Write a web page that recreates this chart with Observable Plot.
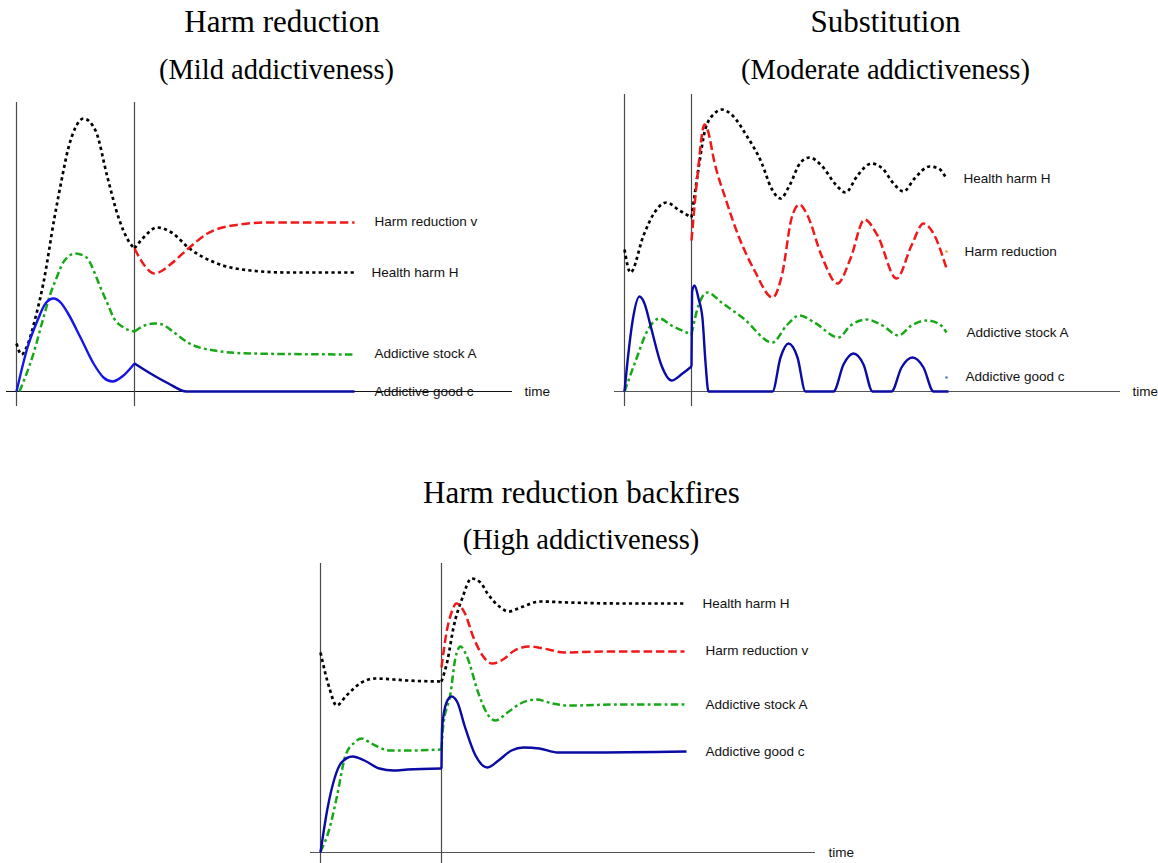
<!DOCTYPE html>
<html><head><meta charset="utf-8">
<script src="https://cdn.jsdelivr.net/npm/d3@7"></script>
<script src="https://cdn.jsdelivr.net/npm/@observablehq/plot@0.6"></script>
<style>
html,body{margin:0;padding:0;background:#fff;}
#root{position:relative;width:1158px;height:863px;overflow:hidden;background:#fff;}
.title{position:absolute;font-family:"Liberation Serif","Times New Roman",serif;white-space:nowrap;transform:translateX(-50%);color:#000;}
.panel{position:absolute;}
</style></head><body><div id="root"></div>
<script>
// ---------- Panel 1: Harm reduction (Mild addictiveness) ----------
const events1 = [0, 118];
const H1_pre  = [[0,48],[5,37],[10,44],[19,74],[27,109],[38,174],[45,211],[52,244],[59,264],[67,273],[79,261],[91,214],[102,174],[113,149],[118,143]];
const H1_post = [[118,143],[127,154],[141,164],[155,159],[173,143],[198,129],[234,121],[270,119],[338,119]];
const v1_post = [[118,143],[128,126],[138,118],[146,121],[155,128],[173,144],[191,158],[216,166],[252,169],[338,169]];
const A1_pre  = [[3,0],[17,38],[27,74],[34,98],[39,111],[48,131],[59,138],[70,134],[80,114],[84,104],[91,88],[97,74],[107,64],[118,60]];
const A1_post = [[118,60],[128,66],[138,68],[146,67],[155,61],[173,48],[198,41],[234,38],[338,37]];
const c1_pre  = [[0,0],[11,44],[21,71],[29,88],[37,93],[45,88],[51,79],[64,54],[77,28],[87,14],[96,10],[107,16],[118,28]];
const c1_post = [[118,28],[134,18],[152,8],[170,0],[338,0]];
const labels1 = [
  {name:"Harm reduction v", t:358, v:170},
  {name:"Health harm H", t:355, v:119},
  {name:"Addictive stock A", t:358, v:38},
  {name:"Addictive good c", t:358, v:0},
  {name:"time", t:508, v:0}
];

// ---------- Panel 2: Substitution (Moderate addictiveness) ----------
const events2 = [0, 67];
const H2_pre  = [[0,142],[6,119],[19,156],[30,179],[42,189],[55,181],[67,174]];
const H2_post = [[67,174],[74,223],[81,263],[90,278],[97,282],[108,276],[122,256],[137,229],[147,203],[156,193],[165,206],[176,229],[185,234],[197,226],[212,206],[221,199],[233,216],[247,228],[258,223],[269,208],[279,200],[290,213],[305,225],[314,223],[322,213]];
const v2_post = [[67,151],[73,216],[80,267],[83,262],[90,229],[101,193],[115,153],[130,121],[148,94],[158,119],[167,173],[175,187],[183,176],[197,136],[213,108],[226,133],[240,172],[253,156],[272,113],[287,146],[299,168],[310,156],[322,123]];
const A2_pre  = [[0,0],[12,33],[22,59],[35,73],[47,66],[67,57]];
const A2_post = [[67,57],[74,86],[83,99],[97,89],[119,73],[148,49],[162,66],[175,76],[190,69],[214,54],[226,66],[242,72],[258,66],[274,56],[287,66],[302,71],[314,68],[322,59]];
const c2_pre  = [[0,0],[4,39],[8,70],[15,95],[20,88],[26,66],[37,26],[47,11],[58,18],[67,25]];
const c2_post = [[67,25],[67.6,100],[70,106],[74,93],[78,73],[81,29],[84,0],[148,0],[156,34],[164,48],[173,34],[181,0],[209,0],[219,27],[229,38],[239,27],[248,0],[267,0],[277,24],[288,34],[299,24],[309,0],[324,0]];
const labels2 = [
  {name:"Health harm H", t:339, v:213},
  {name:"Harm reduction", t:340, v:140},
  {name:"Addictive stock A", t:342, v:59},
  {name:"Addictive good c", t:341, v:15},
  {name:"time", t:508, v:0}
];
const markers2 = [
  {t:322, v:140, color:"#f0a030"},
  {t:322, v:14, color:"#5577cc"}
];

// ---------- Panel 3: Harm reduction backfires (High addictiveness) ----------
const events3 = [0, 121];
const H3_pre  = [[0,200],[9,164],[16,147],[26,157],[41,170],[55,174],[73,173],[87,172],[121,171]];
const H3_post = [[121,171],[127,192],[133,225],[142,255],[151,274],[160,270],[167,259],[180,245],[188,241],[200,245],[220,251],[248,250],[301,249],[364,249]];
const v3_post = [[121,185],[126,220],[131,240],[136,249],[144,240],[153,215],[162,197],[172,189],[184,194],[194,202],[209,206],[223,204],[244,200],[284,201],[364,201]];
const A3_pre  = [[0,1],[9,24],[16,54],[25,97],[34,110],[41,114],[51,109],[69,102],[87,102],[121,103]];
const A3_post = [[121,103],[122.5,125],[130,159],[135,195],[140,206],[146,197],[158,159],[166,140],[175,132],[187,140],[200,149],[216,153],[232,149],[248,147],[301,148],[364,148]];
const c3_pre  = [[0,0],[7,44],[14,74],[21,90],[32,96],[44,92],[59,84],[73,82],[87,83],[121,84]];
const c3_post = [[121,84],[121.6,125],[126,150],[131,156],[137,150],[144,127],[155,97],[167,85],[178,92],[191,102],[203,105],[219,104],[237,100],[266,100],[366,101]];
const labels3 = [
  {name:"Health harm H", t:382, v:249},
  {name:"Harm reduction v", t:385, v:202},
  {name:"Addictive stock A", t:385, v:148},
  {name:"Addictive good c", t:385, v:101},
  {name:"time", t:508, v:0}
];

// ---------- styles ----------
const sH = {stroke:"#000", strokeWidth:2.7, strokeDasharray:"3.2,3.2"};
const sV = {stroke:"#f01818", strokeWidth:2.5, strokeDasharray:"8.5,3.8"};
const sA = {stroke:"#16a816", strokeWidth:2.5, strokeDasharray:"7.5,3.3,2.8,3.3"};
const sCbright = {stroke:"#1616e8", strokeWidth:2.4};
const sCnavy = {stroke:"#0a0aa5", strokeWidth:2.4};

const root = document.getElementById("root");

function addTitle(text, cx, top, fs) {
  const d = document.createElement("div");
  d.className = "title";
  d.textContent = text;
  d.style.left = cx + "px";
  d.style.top = top + "px";
  d.style.fontSize = fs + "px";
  d.style.lineHeight = fs + "px";
  root.appendChild(d);
}

function panel(cfg) {
  const {left, top, width, height, ox, oy, events, axisX, ruleV, series, labels, markers, axisColor} = cfg;
  const marks = [
    Plot.ruleY([{y:0, x1:axisX[0], x2:axisX[1]}], {y:"y", x1:"x1", x2:"x2", stroke:axisColor, strokeWidth:1.1}),
    Plot.ruleX(events.map(e => ({x:e, y1:ruleV[0], y2:ruleV[1]})), {x:"x", y1:"y1", y2:"y2", stroke:"#4a4a4a", strokeWidth:1.2}),
    ...series.map(s => Plot.line(s.data, {x: d => d[0], y: d => d[1], curve:"monotone-x", strokeLinecap:"butt", strokeLinejoin:"round", ...s.style})),
    Plot.text(labels, {x:"t", y:"v", text:"name", textAnchor:"start", lineAnchor:"middle", fontSize:13.5, fontFamily:"Liberation Sans, Arial, sans-serif", fill:"#111"})
  ];
  (markers || []).forEach(m => marks.push(Plot.dot([m], {x:"t", y:"v", r:1.3, fill:m.color, stroke:null})));
  const chart = Plot.plot({
    width, height,
    marginTop:0, marginRight:0, marginBottom:0, marginLeft:0,
    x:{type:"linear", domain:[0,100], range:[ox, ox+100], axis:null},
    y:{type:"linear", domain:[0,100], range:[oy, oy-100], axis:null},
    style:{background:"transparent", overflow:"visible"},
    marks
  });
  const wrap = document.createElement("div");
  wrap.className = "panel";
  wrap.style.left = left + "px";
  wrap.style.top = top + "px";
  wrap.appendChild(chart);
  root.appendChild(wrap);
}

// Titles
addTitle("Harm reduction", 282, 6, 31);
addTitle("(Mild addictiveness)", 276.5, 56, 28.5);
addTitle("Substitution", 885.5, 6, 31);
addTitle("(Moderate addictiveness)", 885.5, 56, 28.5);
addTitle("Harm reduction backfires", 581.5, 477, 31);
addTitle("(High addictiveness)", 581, 526, 28.5);

panel({
  left:0, top:90, width:580, height:330, ox:16, oy:301,
  events:events1, axisX:[-10,496], ruleV:[-15,289], axisColor:"#111",
  series:[
    {data:H1_pre, style:sH}, {data:H1_post, style:sH},
    {data:v1_post, style:sV},
    {data:A1_pre, style:sA}, {data:A1_post, style:sA},
    {data:c1_pre, style:sCbright}, {data:c1_post, style:sCnavy}
  ],
  labels:labels1
});

panel({
  left:590, top:85, width:568, height:335, ox:34, oy:306,
  events:events2, axisX:[-10,496], ruleV:[-15,297], axisColor:"#555",
  series:[
    {data:H2_pre, style:sH}, {data:H2_post, style:sH},
    {data:v2_post, style:sV},
    {data:A2_pre, style:sA}, {data:A2_post, style:sA},
    {data:c2_pre, style:sCnavy}, {data:c2_post, style:sCnavy}
  ],
  labels:labels2, markers:markers2
});

panel({
  left:290, top:555, width:580, height:308, ox:30, oy:297,
  events:events3, axisX:[-10,495], ruleV:[-11,289], axisColor:"#555",
  series:[
    {data:H3_pre, style:sH}, {data:H3_post, style:sH},
    {data:v3_post, style:sV},
    {data:A3_pre, style:sA}, {data:A3_post, style:sA},
    {data:c3_pre, style:sCnavy}, {data:c3_post, style:sCnavy}
  ],
  labels:labels3
});
</script></body></html>
